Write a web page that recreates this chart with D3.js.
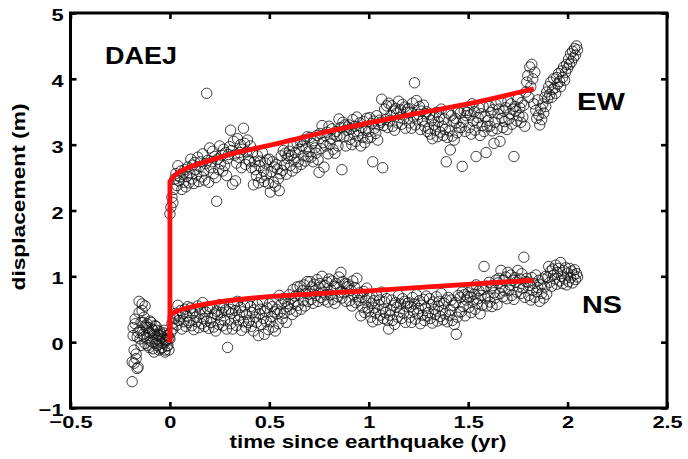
<!DOCTYPE html>
<html>
<head>
<meta charset="utf-8">
<script src="https://cdn.jsdelivr.net/npm/d3@7"></script>
<style>
  body { margin: 0; background: #fff; }
  svg { display: block; }
</style>
</head>
<body>
<svg id="chart" width="688" height="459"></svg>
<script>
// GPS station DAEJ: daily-ish displacement samples (m), one value every stepYear,
// first sample at startYear (years relative to the earthquake).
const startYear = -0.19;
const stepYear = 0.005;

const ewDisp = [
  // before the earthquake
  -0.30,0.22,-0.12,0.35,-0.25,0.08,-0.38,
  0.45,0.05,0.30,0.58,0.12,0.38,-0.02,0.25,
  0.28,-0.05,0.15,0.32,0.02,0.20,-0.10,0.12,0.25,-0.02,0.18,0.05,-0.12,0.10,
  0.12,-0.08,0.05,0.18,-0.12,0.02,0.10,-0.05,0.06,
  // after the earthquake, rows of 0.1 yr
  1.95,2.05,2.20,2.12,2.32,2.48,2.56,2.38,2.68,2.45,2.51,2.60,2.32,2.55,2.43,2.62,2.36,2.52,2.66,2.42,
  2.57,2.78,2.48,2.69,2.41,2.73,2.62,2.54,2.81,2.44,2.67,2.74,2.51,2.86,2.60,2.46,2.71,3.78,2.76,2.43,
  2.95,2.65,2.74,2.90,2.56,2.82,2.50,2.14,2.78,2.62,2.98,2.71,2.84,2.60,2.93,2.68,2.88,2.53,2.79,2.85,
  2.97,3.22,2.91,2.40,3.05,2.84,2.45,2.72,3.09,2.81,2.88,3.00,2.65,2.93,3.25,3.02,2.70,2.89,3.07,2.77,
  2.75,2.98,2.65,2.88,2.39,2.74,2.62,2.53,2.83,2.42,2.68,2.75,2.50,2.88,2.60,2.44,2.72,2.54,2.77,2.41,
  2.78,2.28,2.59,2.74,2.43,2.66,2.37,2.70,2.63,2.48,2.30,2.56,2.83,2.61,2.91,2.69,2.87,2.55,2.79,2.84,
  2.90,2.68,2.84,2.60,2.98,2.77,2.88,2.65,3.02,2.74,2.93,3.05,2.70,2.98,2.83,3.07,2.75,2.94,3.12,2.82,
  2.90,3.11,2.81,3.02,2.74,3.06,2.95,2.87,3.14,2.77,2.58,3.17,2.94,3.29,3.03,2.66,3.14,2.98,3.19,2.86,
  3.28,3.01,3.09,3.24,2.93,3.16,2.87,3.20,3.13,2.98,3.39,3.14,3.26,2.62,3.34,3.12,3.30,2.98,3.22,3.27,
  3.30,3.08,3.24,3.00,3.38,3.17,3.28,3.05,3.42,3.14,3.21,3.33,2.98,3.26,3.11,3.35,3.03,3.22,3.40,3.10,
  3.20,3.41,3.11,3.32,2.74,3.36,3.25,3.17,3.44,3.07,3.30,3.37,3.34,3.69,2.65,3.29,3.54,3.38,3.59,3.26,
  3.63,3.36,3.44,3.59,3.28,3.51,3.22,3.55,3.48,3.33,3.66,3.41,3.53,3.31,3.61,3.39,3.57,3.25,3.49,3.54,
  3.55,3.33,3.49,3.25,3.63,3.42,3.94,3.30,3.67,3.39,3.46,3.58,3.23,3.51,3.36,3.60,3.28,3.47,3.50,3.20,
  3.25,3.46,3.16,3.37,3.09,3.41,3.30,3.22,3.49,3.12,3.35,3.42,3.19,3.54,3.28,3.14,3.39,3.23,2.74,3.11,
  3.48,3.21,2.92,3.44,3.13,3.36,3.07,3.40,3.33,3.18,3.51,3.26,3.48,3.26,2.67,3.34,3.52,3.20,3.44,3.49,
  3.52,3.26,3.45,3.16,3.62,3.36,3.50,3.22,2.82,3.33,3.41,3.56,3.14,3.47,3.29,3.58,3.20,3.42,2.88,3.28,
  3.37,3.58,3.28,3.49,3.21,3.53,3.02,3.34,3.61,3.24,3.47,3.54,3.05,3.66,3.40,3.26,3.51,3.35,3.56,3.23,
  3.66,3.39,3.47,3.62,3.31,3.54,2.82,3.58,3.51,3.36,3.69,3.44,3.56,3.34,3.64,3.42,3.60,3.28,3.80,3.95,
  4.05,3.72,4.18,3.88,4.22,4.00,3.62,4.10,3.52,3.40,3.68,3.45,3.30,3.55,3.38,3.62,3.48,3.72,3.58,3.80,
  3.70,3.88,3.76,3.95,3.72,3.84,4.00,3.86,3.78,4.02,3.92,4.08,3.96,3.88,4.12,4.02,4.18,3.98,4.10,4.22,
  4.16,4.30,4.22,4.38,4.26,4.42,4.32,4.46,4.36,4.50,4.44
];

const nsDisp = [
  // before the earthquake
  -0.60,0.10,-0.32,0.28,-0.18,-0.40,0.15,
  0.62,0.18,-0.05,0.48,0.30,0.08,0.55,0.22,
  0.05,0.22,-0.08,0.14,0.30,0.00,0.18,-0.15,0.08,0.24,-0.05,0.12,0.02,0.16,
  -0.10,0.08,-0.02,0.14,-0.15,0.04,-0.06,0.10,-0.12,
  // after the earthquake, rows of 0.1 yr
  0.05,0.15,0.28,0.20,0.38,0.36,0.44,0.26,0.56,0.33,0.39,0.48,0.20,0.43,0.31,0.50,0.24,0.40,0.54,0.30,
  0.33,0.52,0.25,0.44,0.19,0.48,0.38,0.31,0.55,0.22,0.43,0.49,0.28,0.60,0.36,0.24,0.46,0.32,0.51,0.21,
  0.54,0.30,0.37,0.51,0.23,0.43,0.17,0.47,0.41,0.27,0.57,0.34,0.45,0.25,0.52,0.33,0.49,0.20,-0.08,0.46,
  0.50,0.28,0.44,0.20,0.58,0.37,0.48,0.25,0.62,0.34,0.41,0.53,0.18,0.46,0.31,0.55,0.23,0.42,0.60,0.30,
  0.33,0.54,0.24,0.45,0.17,0.49,0.38,0.30,0.57,0.10,0.43,0.50,0.27,0.62,0.36,0.12,0.47,0.31,0.52,0.19,
  0.58,0.31,0.39,0.54,0.23,0.46,0.17,0.50,0.43,0.28,0.71,0.46,0.58,0.36,0.66,0.44,0.62,0.30,0.54,0.59,
  0.72,0.50,0.66,0.42,0.80,0.59,0.70,0.47,0.84,0.56,0.73,0.85,0.50,0.78,0.63,0.87,0.55,0.74,0.92,0.62,
  0.73,0.92,0.65,0.84,0.59,0.88,0.78,0.71,0.95,0.62,0.83,0.89,0.68,1.00,0.76,0.64,0.86,0.72,0.91,0.61,
  0.96,0.72,0.79,0.93,0.65,0.85,0.59,0.89,0.83,0.69,0.99,0.76,1.06,0.67,0.92,0.75,0.89,0.62,0.84,0.88,
  0.85,0.63,0.79,0.55,0.93,0.72,0.83,0.60,0.97,0.69,0.63,0.75,0.40,0.68,0.53,0.77,0.45,0.64,0.82,0.52,
  0.47,0.68,0.38,0.59,0.31,0.63,0.52,0.44,0.71,0.34,0.57,0.64,0.41,0.76,0.50,0.36,0.61,0.45,0.66,0.33,
  0.20,0.41,0.49,0.64,0.33,0.56,0.27,0.60,0.53,0.38,0.71,0.46,0.58,0.36,0.66,0.44,0.62,0.30,0.54,0.59,
  0.60,0.38,0.54,0.30,0.68,0.47,0.58,0.35,0.72,0.44,0.51,0.63,0.28,0.56,0.41,0.65,0.33,0.52,0.70,0.40,
  0.45,0.66,0.36,0.57,0.29,0.61,0.50,0.42,0.69,0.32,0.55,0.62,0.39,0.74,0.48,0.34,0.59,0.43,0.64,0.31,
  0.68,0.41,0.49,0.64,0.33,0.56,0.27,0.60,0.12,0.38,0.71,0.46,0.68,0.46,0.76,0.54,0.72,0.40,0.64,0.69,
  0.75,0.53,0.69,0.45,0.83,0.62,0.73,0.50,0.87,0.59,0.66,0.78,0.43,0.71,0.56,0.80,1.15,0.67,0.85,0.55,
  0.70,0.91,0.61,0.82,0.54,0.86,0.75,0.67,0.94,0.57,0.90,0.97,0.74,1.09,0.83,0.69,0.94,0.78,0.99,0.66,
  1.06,0.79,0.87,1.02,0.71,0.94,0.65,0.98,0.91,0.76,1.09,0.84,0.96,0.74,1.04,0.82,1.29,0.68,0.92,0.97,
  0.91,0.71,0.86,0.64,0.98,0.79,0.89,0.68,1.02,0.77,0.83,0.94,0.62,0.87,0.74,0.96,0.67,0.84,1.00,0.73,
  0.98,1.15,0.91,1.08,0.85,1.11,1.02,0.96,1.17,0.88,1.06,1.12,0.93,1.21,1.00,0.89,1.09,0.96,1.13,0.87,
  1.05,0.92,1.12,0.98,1.08,0.90,1.02,1.10,0.95,1.04,0.99
];

// Coseismic offset plus postseismic fit curves
const ewFitT = [0, 0, 0.02, 0.05, 0.10, 0.20, 0.35, 0.50, 0.75, 1.00, 1.25, 1.50, 1.83];
const ewFitV = [0, 2.44, 2.52, 2.59, 2.66, 2.76, 2.89, 2.99, 3.17, 3.33, 3.48, 3.62, 3.85];
const nsFitT = [0, 0, 0.01, 0.035, 0.10, 0.20, 0.45, 0.70, 1.00, 1.30, 1.66, 1.83];
const nsFitV = [0, 0.38, 0.43, 0.47, 0.53, 0.59, 0.68, 0.73, 0.78, 0.84, 0.91, 0.94];

const xTicks = [-0.5, 0, 0.5, 1, 1.5, 2, 2.5];
const xTickLabels = ["\u22120.5", "0", "0.5", "1", "1.5", "2", "2.5"];
const yTicks = [-1, 0, 1, 2, 3, 4, 5];
const yTickLabels = ["\u22121", "0", "1", "2", "3", "4", "5"];

const svg = d3.select("#chart");
const plotLeft = 70.5, plotRight = 667, plotTop = 13, plotBottom = 408;

const x = d3.scaleLinear().domain([-0.5, 2.5]).range([plotLeft, plotRight]);
const y = d3.scaleLinear().domain([-1, 5]).range([plotBottom, plotTop]);

const toPoints = vals => vals.map((v, i) => ({ t: startYear + i * stepYear, v }));
const points = toPoints(ewDisp).concat(toPoints(nsDisp));

// observations as open circles
svg.append("g")
  .selectAll("circle")
  .data(points)
  .join("circle")
  .attr("cx", d => x(d.t))
  .attr("cy", d => y(d.v))
  .attr("r", 5.2)
  .attr("fill", "none")
  .attr("stroke", "#111")
  .attr("stroke-opacity", 0.8)
  .attr("stroke-width", 1);

// fit curves: vertical coseismic step, then smooth postseismic trend
const curve = d3.line().x(d => x(d[0])).y(d => y(d[1])).curve(d3.curveMonotoneX);
[[ewFitT, ewFitV], [nsFitT, nsFitV]].forEach(([ts, vs]) => {
  const pts = ts.map((t, i) => [t, vs[i]]);
  const step = `M${x(pts[0][0])},${y(pts[0][1])}`;
  svg.append("path")
    .attr("d", step + curve(pts.slice(1)).replace(/^M/, "L"))
    .attr("fill", "none")
    .attr("stroke", "#ff0d0d")
    .attr("stroke-width", 4.8)
    .attr("stroke-linejoin", "round");
});

// widen glyphs horizontally to the chart's type proportions
function widen(sel, k) {
  sel.each(function () {
    const w = this.getComputedTextLength();
    d3.select(this).attr("textLength", w * k).attr("lengthAdjust", "spacingAndGlyphs");
  });
}

const font = "'Liberation Sans', Arial, Helvetica, sans-serif";

// axes: labelled bottom/left, ticks only top/right, all ticks pointing inward
const xAxis = d3.axisBottom(x).tickValues(xTicks).tickSize(-6).tickPadding(8)
  .tickFormat((d, i) => xTickLabels[i]);
const yAxis = d3.axisLeft(y).tickValues(yTicks).tickSize(-6).tickPadding(7)
  .tickFormat((d, i) => yTickLabels[i]);

const gx = svg.append("g").attr("transform", `translate(0,${plotBottom})`).call(xAxis);
const gy = svg.append("g").attr("transform", `translate(${plotLeft},0)`).call(yAxis);
svg.append("g").attr("transform", `translate(0,${plotTop})`)
  .call(d3.axisTop(x).tickValues(xTicks).tickSize(-6).tickFormat(""));
svg.append("g").attr("transform", `translate(${plotRight},0)`)
  .call(d3.axisRight(y).tickValues(yTicks).tickSize(-6).tickFormat(""));

svg.selectAll(".domain").remove();
svg.selectAll(".tick line").attr("stroke", "#000").attr("stroke-width", 2.6);

[gx, gy].forEach(g => g.selectAll("text")
  .attr("font-family", font).attr("font-weight", "bold").attr("font-size", 17).attr("fill", "#000"));
gy.selectAll("text").attr("dy", "0.45em");
gx.selectAll("text").attr("dy", "0.7em");
widen(gx.selectAll("text"), 1.28);
widen(gy.selectAll("text"), 1.28);

// frame
svg.append("rect")
  .attr("x", plotLeft).attr("y", plotTop)
  .attr("width", plotRight - plotLeft).attr("height", plotBottom - plotTop)
  .attr("fill", "none").attr("stroke", "#000").attr("stroke-width", 3);

// labels
function label(text, px, py, size, width, anchor) {
  return svg.append("text")
    .attr("x", px).attr("y", py)
    .attr("font-family", font).attr("font-weight", "bold")
    .attr("font-size", size).attr("fill", "#000")
    .attr("text-anchor", anchor || "start")
    .attr("textLength", width).attr("lengthAdjust", "spacingAndGlyphs")
    .text(text);
}

label("DAEJ", 105, 64, 24, 72);
label("EW", 577, 110, 24, 48);
label("NS", 582, 313, 24, 40);
label("time since earthquake (yr)", 368, 448, 17.5, 277, "middle");
label("displacement (m)", 0, 0, 17.5, 187, "middle")
  .attr("transform", "translate(25,197) rotate(-90)");
</script>
</body>
</html>
